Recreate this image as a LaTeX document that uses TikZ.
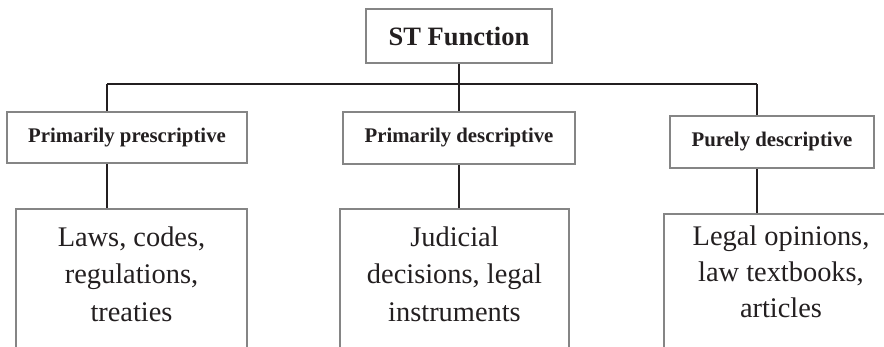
\documentclass[tikz,border=0pt]{standalone}
\usepackage{fontspec}
\setmainfont{Liberation Serif}
\usetikzlibrary{backgrounds}
\definecolor{boxgray}{HTML}{858585}
\definecolor{ink}{HTML}{231F20}
\begin{document}
\begin{tikzpicture}[x=1pt,y=-1pt,
  rootbox/.style={draw=boxgray, line width=2pt, fill=white, inner sep=0pt,
    text=ink, font=\bfseries\fontsize{26.5}{30}\selectfont},
  catbox/.style={draw=boxgray, line width=2pt, fill=white, inner sep=0pt,
    text=ink, font=\bfseries\fontsize{20.8}{24}\selectfont},
  srcbox/.style={draw=boxgray, line width=2pt, fill=white, inner sep=0pt,
    anchor=north, minimum height=170pt},
  srctext/.style={inner sep=0pt, anchor=north, align=center, text=ink},
  link/.style={draw=ink, line width=2pt}]
\useasboundingbox (0,0) rectangle (884,346);
\clip (0,0) rectangle (884,346);

% top node and the three categories
\node[rootbox, minimum width=186pt, minimum height=54pt] (root) at (459,36) {ST Function};
\node[catbox, minimum width=240pt, minimum height=51pt] (presc) at (127,137.5) {Primarily prescriptive};
\node[catbox, minimum width=232pt, minimum height=52pt] (desc) at (459,138) {Primarily descriptive};
\node[catbox, minimum width=204pt, minimum height=52pt] (pure) at (772,142) {Purely descriptive};

% source boxes (running off the lower edge)
\node[srcbox, minimum width=231pt] (laws) at (131.5,208) {};
\node[srcbox, minimum width=229pt] (judic) at (454.5,208) {};
\node[srcbox, minimum width=234pt] (opin) at (781,213) {};

\node[srctext, font=\fontsize{28.4}{37.5}\selectfont] (lawstxt) at (131.5,226.5)
  {Laws, codes,\\regulations,\\treaties};
\node[srctext, font=\fontsize{28.4}{37.5}\selectfont] (judictxt) at (454.5,226.5)
  {Judicial\\decisions, legal\\instruments};
\node[srctext, font=\fontsize{28.4}{36}\selectfont] (opintxt) at (781,225.5)
  {Legal opinions,\\law textbooks,\\articles};

% connectors
\coordinate (busL) at (107,84);
\coordinate (busR) at (757,84);
\begin{scope}[on background layer]
  \draw[link] (root.south) -- (root.south |- busL);
  \draw[link] (busL) -- (busR);
  \draw[link] (busL) -- (busL |- presc.north);
  \draw[link] (root.south |- busL) -- (desc.north);
  \draw[link] (busR) -- (busR |- pure.north);
  \draw[link] (presc.south -| busL) -- (laws.north -| busL);
  \draw[link] (desc.south) -- (judic.north -| desc.south);
  \draw[link] (pure.south -| busR) -- (opin.north -| busR);
\end{scope}
\end{tikzpicture}
\end{document}
